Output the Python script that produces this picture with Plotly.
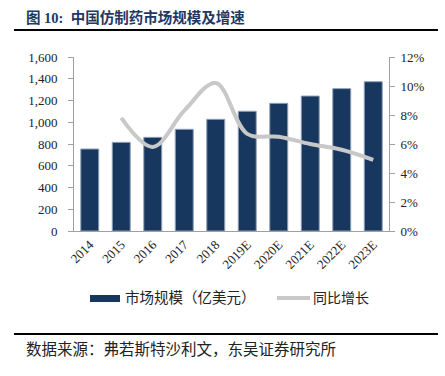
import plotly.graph_objects as go

categories = ["2014", "2015", "2016", "2017", "2018", "2019E", "2020E", "2021E", "2022E", "2023E"]
market_size = [754, 815, 861, 935, 1027, 1101, 1174, 1241, 1309, 1373]
growth_years = ["2015", "2016", "2017", "2018", "2019E", "2020E", "2021E", "2022E", "2023E"]
growth = [0.078, 0.058, 0.083, 0.102, 0.067, 0.065, 0.060, 0.056, 0.049]
left_ticks = [0, 200, 400, 600, 800, 1000, 1200, 1400, 1600]
right_ticks = [0, 0.02, 0.04, 0.06, 0.08, 0.10, 0.12]
series_names = ["市场规模（亿美元）", "同比增长"]

serif = "Liberation Serif"
cjk = "Liberation Serif, Noto Sans CJK SC"

bar_color = "#17375e"
line_color = "#c8c8c8"
axis_color = "#a0a0a0"

fig = go.Figure()
fig.add_trace(go.Bar(
    x=categories, y=market_size, name=series_names[0],
    marker=dict(color=bar_color, line=dict(color="#8ea0b8", width=1)),
))
fig.add_trace(go.Scatter(
    x=growth_years, y=growth, name=series_names[1], yaxis="y2", mode="lines",
    line=dict(color=line_color, width=4, shape="spline", smoothing=1.0),
))

L, R, T, B = 74, 56, 57, 145
W, H = 445, 376
plot_h = H - T - B
plot_w = W - L - R


def px(x):
    return (x - L) / plot_w


def py(y):
    return (H - B - y) / plot_h


tickfont = dict(family=serif, size=13, color="#222")
fig.update_layout(
    width=W, height=H,
    margin=dict(l=L, r=R, t=T, b=B, autoexpand=False),
    paper_bgcolor="white", plot_bgcolor="white",
    bargap=0.43,
    showlegend=False,
    xaxis=dict(type="category", tickangle=-45, showline=True, linecolor=axis_color,
               linewidth=1, ticks="", tickfont=tickfont, showgrid=False),
    yaxis=dict(range=[0, 1600], tickvals=left_ticks, tickformat=",d", showline=True,
               linecolor=axis_color, linewidth=1, ticks="outside", ticklen=5,
               tickcolor=axis_color, showgrid=False, zeroline=False, tickfont=tickfont,
               ticklabelstandoff=8),
    yaxis2=dict(range=[0, 0.12], tickvals=right_ticks, tickformat=".0%", overlaying="y",
                side="right", showline=True, linecolor=axis_color, linewidth=1,
                ticks="outside", ticklen=5, tickcolor=axis_color, showgrid=False,
                zeroline=False, tickfont=tickfont, ticklabelstandoff=3),
    shapes=[
        dict(type="line", xref="paper", yref="paper", x0=px(14), x1=px(438), y0=py(30), y1=py(30),
             line=dict(color="#000", width=2)),
        dict(type="line", xref="paper", yref="paper", x0=px(14), x1=px(438), y0=py(334), y1=py(334),
             line=dict(color="#000", width=2)),
        # custom legend swatches
        dict(type="rect", xref="paper", yref="paper", x0=px(90), x1=px(120), y0=py(302), y1=py(295),
             fillcolor=bar_color, line=dict(width=0)),
        dict(type="line", xref="paper", yref="paper", x0=px(277), x1=px(310), y0=py(298), y1=py(298),
             line=dict(color=line_color, width=4)),
    ],
)

fig.add_annotation(text="<b>图 10:  中国仿制药市场规模及增速</b>", xref="paper", yref="paper",
                   x=px(24), y=py(17), xanchor="left", yanchor="middle", showarrow=False,
                   font=dict(family=cjk, size=14.5, color="#1f3864"))
fig.add_annotation(text="数据来源：弗若斯特沙利文，东吴证券研究所", xref="paper", yref="paper",
                   x=px(24), y=py(349), xanchor="left", yanchor="middle", showarrow=False,
                   font=dict(family=cjk, size=15.5, color="#222"))
fig.add_annotation(text=series_names[0], xref="paper", yref="paper",
                   x=px(123), y=py(298), xanchor="left", yanchor="middle", showarrow=False,
                   font=dict(family=cjk, size=14.5, color="#222"))
fig.add_annotation(text=series_names[1], xref="paper", yref="paper",
                   x=px(311), y=py(298), xanchor="left", yanchor="middle", showarrow=False,
                   font=dict(family=cjk, size=14, color="#222"))

fig.write_html("out.html", config={"displayModeBar": False},
               post_script="document.body.style.margin='0px';")
